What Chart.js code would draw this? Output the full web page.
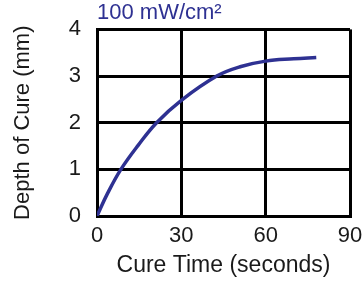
<!DOCTYPE html>
<html>
<head>
<meta charset="utf-8">
<script src="https://cdn.jsdelivr.net/npm/chart.js@4"></script>
<style>
html,body{margin:0;padding:0;background:#fff;}
#wrap{width:363px;height:282px;position:relative;}
</style>
</head>
<body>
<div id="wrap"><canvas id="c" width="363" height="282"></canvas></div>
<script>
const cureTime = [0, 3.8, 8.5, 14.7, 21.2, 30, 42.6, 50.9, 60, 70, 78];
const depthOfCure = [0, 0.49, 1, 1.52, 2, 2.48, 3, 3.2, 3.32, 3.37, 3.40];
const xTicks = [0, 30, 60, 90];
const yTicks = [0, 1, 2, 3, 4];
const seriesLabel = '100 mW/cm²';

const FONT = "'Liberation Sans', Arial, sans-serif";
const points = cureTime.map((t, i) => ({x: t, y: depthOfCure[i]}));

new Chart(document.getElementById('c'), {
  type: 'line',
  data: {
    datasets: [{
      label: seriesLabel,
      data: points,
      borderColor: '#2e3192',
      borderWidth: 3.5,
      pointRadius: 0,
      tension: 0.4,
      fill: false
    }]
  },
  options: {
    responsive: false,
    animation: false,
    devicePixelRatio: 1,
    layout: {padding: {left: 0, right: 0, top: 0, bottom: 0}},
    plugins: {
      legend: {display: false},
      tooltip: {enabled: false},
      title: {
        display: true,
        text: seriesLabel,
        align: 'start',
        fullSize: false,
        color: '#2e3192',
        font: {family: FONT, size: 22, weight: 'normal'},
        padding: {top: 0, bottom: 3}
      }
    },
    scales: {
      x: {
        type: 'linear',
        min: 0, max: 90,
        afterBuildTicks: s => { s.ticks = xTicks.map(v => ({value: v})); },
        afterFit: s => { s.height = 66; s.paddingRight = 13; s.paddingLeft = 0; },
        grid: {color: '#000', lineWidth: 3, drawTicks: false},
        border: {color: '#000', width: 3},
        ticks: {color: '#1a1a1a', font: {family: FONT, size: 22}, padding: 7, maxRotation: 0},
        title: {display: true, text: 'Cure Time (seconds)', color: '#1a1a1a',
                font: {family: FONT, size: 23}, padding: {top: 0, bottom: 3}}
      },
      y: {
        min: 0, max: 4,
        afterBuildTicks: s => { s.ticks = yTicks.map(v => ({value: v})); },
        afterFit: s => { s.width = 97; },
        grid: {color: '#000', lineWidth: 3, drawTicks: false},
        border: {color: '#000', width: 3},
        ticks: {color: '#1a1a1a', font: {family: FONT, size: 22}, padding: 16},
        title: {display: true, text: 'Depth of Cure (mm)', color: '#1a1a1a',
                font: {family: FONT, size: 22}, padding: {top: 10, bottom: 0}}
      }
    }
  }
});
</script>
</body>
</html>
